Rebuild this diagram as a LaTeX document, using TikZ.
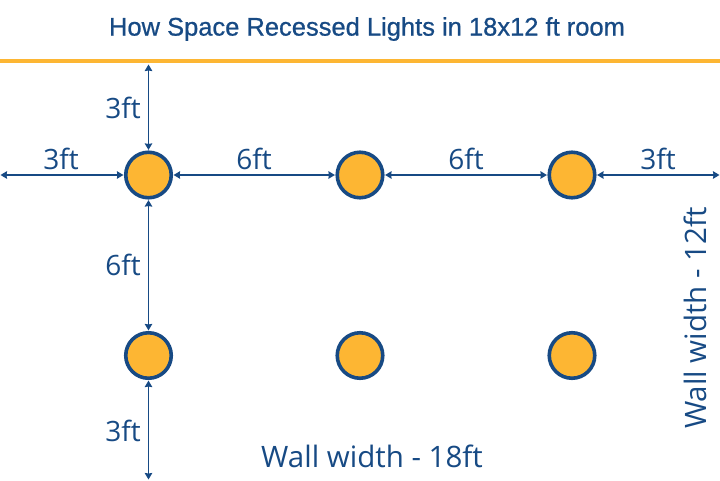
\documentclass[tikz,border=0pt]{standalone}
\usepackage{fontspec}
\setmainfont{Open Sans}
\newfontfamily\titlefont[FakeBold=0.8]{Liberation Sans}
\usetikzlibrary{arrows.meta}
\definecolor{navy}{HTML}{174A84}
\definecolor{amber}{HTML}{FDB633}
\begin{document}
\begin{tikzpicture}[x=1pt,y=-1pt]
        \tikzset{light/.style = {shape=circle,draw=navy,fill=amber,line width=3.6pt,minimum size=45.5pt,inner sep=0pt}}
        \tikzset{edge/.style = {navy,line width=1.5pt,{Stealth[length=6.5pt,width=7.5pt,inset=0.5pt]}-{Stealth[length=6.5pt,width=7.5pt,inset=0.5pt]},shorten <=0.5pt,shorten >=0.5pt}}
        \tikzset{dim/.style = {text=navy,font=\fontsize{28}{32}\selectfont,inner sep=0pt}}
        \useasboundingbox (0, 0) rectangle (720, 480);

        \node[text=navy,font=\titlefont\fontsize{25.5}{30}\selectfont,inner sep=0pt] (title) at (367, 29) {How Space Recessed Lights in 18x12 ft room};
        \coordinate (ceilL) at (0, 61);
        \coordinate (ceilR) at (720, 61);
        \draw[amber,line width=4.8pt] (ceilL) -- (ceilR);

        \node[light] (L11) at (148.5, 175) {};
        \node[light] (L12) at (360, 175) {};
        \node[light] (L13) at (572, 175) {};
        \node[light] (L21) at (148.5, 355.5) {};
        \node[light] (L22) at (360, 355.5) {};
        \node[light] (L23) at (572, 355.5) {};

        \coordinate (top) at (148.5, 64);
        \coordinate (left) at (0, 175);
        \coordinate (right) at (720, 175);
        \coordinate (bottom) at (148.5, 480);

        \draw[edge] (top) to (L11);
        \draw[edge] (left) to (L11);
        \draw[edge] (L11) to (L12);
        \draw[edge] (L12) to (L13);
        \draw[edge] (L13) to (right);
        \draw[edge] (L11) to (L21);
        \draw[edge] (L21) to (bottom);

        \node[dim] (a) at (123, 108) {3ft};
        \node[dim] (b) at (61, 159) {3ft};
        \node[dim] (c) at (254, 159) {6ft};
        \node[dim] (d) at (466, 159) {6ft};
        \node[dim] (e) at (658, 159) {3ft};
        \node[dim] (f) at (123, 265) {6ft};
        \node[dim] (g) at (123, 431) {3ft};
        \node[dim,font=\fontsize{29.5}{34}\selectfont] (w1) at (372, 456) {Wall width - 18ft};
        \node[dim,font=\fontsize{29.5}{34}\selectfont,rotate=90] (w2) at (695, 318) {Wall width - 12ft};
\end{tikzpicture}
\end{document}
